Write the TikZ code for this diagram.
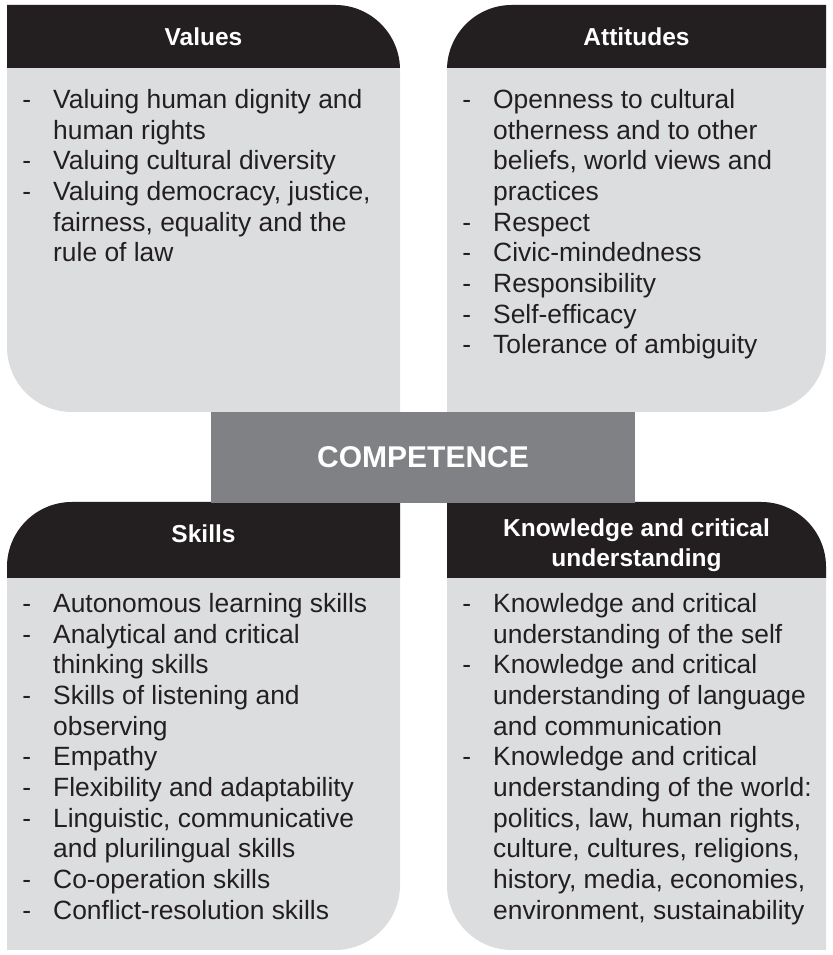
\documentclass[tikz,border=0pt]{standalone}
\usepackage{fontspec}
\setmainfont{Liberation Sans}
\definecolor{panel}{HTML}{DCDDDF}
\definecolor{headbg}{HTML}{231F20}
\definecolor{corebg}{HTML}{808184}
\definecolor{ink}{HTML}{231F20}
\newcommand\itemdash{\llap{-\hspace{22pt}}}

\begin{document}
\begin{tikzpicture}[x=1pt,y=1pt,
  headtext/.style={text=white,font=\fontsize{24.5}{30}\selectfont\bfseries,align=center,inner sep=0pt},
  listtext/.style={text=ink,font=\fontsize{26.4}{30.7}\selectfont,align=left,anchor=north west,inner sep=0pt},
  coretext/.style={fill=corebg,text=white,font=\fontsize{30}{36}\selectfont\bfseries,
    minimum width=424pt,minimum height=91pt,inner sep=0pt},
]
\useasboundingbox (0,0) rectangle (832,955);

% ---- top left panel: Values ----
\fill[panel] (7,950) -- (335,950) arc[start angle=90,end angle=0,radius=65]
  -- (400,543) -- (72,543) arc[start angle=270,end angle=180,radius=65] -- cycle;
\begin{scope}
  \clip (7,950) -- (335,950) arc[start angle=90,end angle=0,radius=65]
    -- (400,543) -- (72,543) arc[start angle=270,end angle=180,radius=65] -- cycle;
  \fill[headbg] (0,887) rectangle (410,955);
\end{scope}

% ---- top right panel: Attitudes ----
\fill[panel] (447,543) -- (447,885) arc[start angle=180,end angle=90,radius=65]
  -- (826,950) -- (826,608) arc[start angle=0,end angle=-90,radius=65] -- cycle;
\begin{scope}
  \clip (447,543) -- (447,885) arc[start angle=180,end angle=90,radius=65]
    -- (826,950) -- (826,608) arc[start angle=0,end angle=-90,radius=65] -- cycle;
  \fill[headbg] (440,887) rectangle (832,955);
\end{scope}

% ---- bottom left panel: Skills ----
\fill[panel] (7,5) -- (7,388) arc[start angle=180,end angle=90,radius=65]
  -- (400,453) -- (400,70) arc[start angle=0,end angle=-90,radius=65] -- cycle;
\begin{scope}
  \clip (7,5) -- (7,388) arc[start angle=180,end angle=90,radius=65]
    -- (400,453) -- (400,70) arc[start angle=0,end angle=-90,radius=65] -- cycle;
  \fill[headbg] (0,377) rectangle (410,460);
\end{scope}

% ---- bottom right panel: Knowledge and critical understanding ----
\fill[panel] (447,453) -- (761,453) arc[start angle=90,end angle=0,radius=65]
  -- (826,5) -- (512,5) arc[start angle=270,end angle=180,radius=65] -- cycle;
\begin{scope}
  \clip (447,453) -- (761,453) arc[start angle=90,end angle=0,radius=65]
    -- (826,5) -- (512,5) arc[start angle=270,end angle=180,radius=65] -- cycle;
  \fill[headbg] (440,377) rectangle (832,460);
\end{scope}

% ---- central label ----
\node[coretext] (core) at (423,497.5) {COMPETENCE};

% ---- headings ----
\node[headtext] (hvalues) at (203.5,918.5) {Values};
\node[headtext] (hattitudes) at (636.5,918.5) {Attitudes};
\node[headtext] (hskills) at (203.5,421) {Skills};
\node[headtext] (hknowledge) at (636.5,410) {Knowledge and critical\\understanding};

% ---- lists ----
\node[listtext] (lvalues) at (53,866) {%
  \itemdash Valuing human dignity and\\
  human rights\\
  \itemdash Valuing cultural diversity\\
  \itemdash Valuing democracy, justice,\\
  fairness, equality and the\\
  rule of law};

\node[listtext] (lattitudes) at (493,866) {%
  \itemdash Openness to cultural\\
  otherness and to other\\
  beliefs, world views and\\
  practices\\
  \itemdash Respect\\
  \itemdash Civic-mindedness\\
  \itemdash Responsibility\\
  \itemdash Self-efficacy\\
  \itemdash Tolerance of ambiguity};

\node[listtext] (lskills) at (53,362) {%
  \itemdash Autonomous learning skills\\
  \itemdash Analytical and critical\\
  thinking skills\\
  \itemdash Skills of listening and\\
  observing\\
  \itemdash Empathy\\
  \itemdash Flexibility and adaptability\\
  \itemdash Linguistic, communicative\\
  and plurilingual skills\\
  \itemdash Co-operation skills\\
  \itemdash Conflict-resolution skills};

\node[listtext] (lknowledge) at (493,362) {%
  \itemdash Knowledge and critical\\
  understanding of the self\\
  \itemdash Knowledge and critical\\
  understanding of language\\
  and communication\\
  \itemdash Knowledge and critical\\
  understanding of the world:\\
  politics, law, human rights,\\
  culture, cultures, religions,\\
  history, media, economies,\\
  environment, sustainability};
\end{tikzpicture}
\end{document}
